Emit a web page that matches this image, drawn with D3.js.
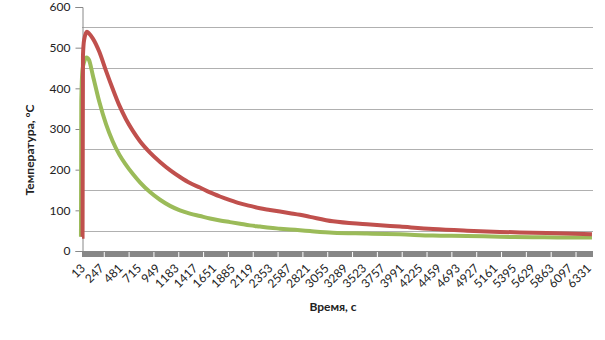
<!DOCTYPE html>
<html>
<head>
<meta charset="utf-8">
<script src="https://cdn.jsdelivr.net/npm/d3@7"></script>
<style>
  body { margin: 0; background: #fff; }
  text { font-family: Lato, "Open Sans", sans-serif; fill: #222; }
</style>
</head>
<body>
<div id="chart"></div>
<script>
// Time points (s)
var redTime = [13, 20, 25, 40, 75, 100, 147, 229, 313, 396, 479, 562, 646, 737, 862, 987, 1112, 1236, 1361, 1486,
  1611, 1736, 1861, 1986, 2110, 2235, 2360, 2485, 2610, 2735, 2860, 3146, 3571, 3983, 4395, 4820, 5232, 5644, 6068, 6380];
var redTemp = [35, 35, 480, 520, 539, 535, 523, 490, 443, 399, 358, 324, 296, 270, 242, 219, 199, 182, 167, 156,
  144, 134, 125, 117, 111, 105, 101, 97, 93, 89, 84, 73, 66, 60, 54, 50, 47, 45, 43, 41];

var greenTime = [0, 4, 20, 40, 70, 100, 147, 229, 313, 396, 479, 562, 646, 737, 862, 987, 1112, 1236, 1361, 1486,
  1611, 1736, 1861, 1986, 2110, 2235, 2360, 2485, 2610, 2735, 2860, 3146, 3571, 3983, 4395, 4820, 5232, 5644, 6068, 6380];
var greenTemp = [35, 367, 447, 465, 476, 470, 433, 367, 312, 270, 237, 212, 190, 169, 145, 126, 111, 100, 92, 86,
  80, 75, 71, 67, 63, 60, 57, 55, 53, 51, 49, 45, 43, 41, 38, 37, 35, 34, 33, 33];

// x tick labels (every 234 s) and y ticks
var xTickLabels = [13, 247, 481, 715, 949, 1183, 1417, 1651, 1885, 2119, 2353, 2587, 2821, 3055,
  3289, 3523, 3757, 3991, 4225, 4459, 4693, 4927, 5161, 5395, 5629, 5863, 6097, 6331];
var yTicks = [0, 100, 200, 300, 400, 500, 600];
var gridValues = [50, 150, 250, 350, 450, 550];

var svgWidth = 605;
var svgHeight = 340;

var svg = d3.select("#chart")
  .append("svg")
  .attr("width", svgWidth)
  .attr("height", svgHeight);

// plot area
var plotLeft = 82, plotRight = 593, plotTop = 7, plotBottom = 251;

var xScale = d3.scaleLinear().domain([13, 6393]).range([plotLeft, plotRight]);
var yScale = d3.scaleLinear().domain([0, 600]).range([plotBottom, plotTop]);

// grid lines
svg.append("g")
  .selectAll("line")
  .data(gridValues)
  .enter()
  .append("line")
  .attr("x1", plotLeft)
  .attr("x2", plotRight)
  .attr("y1", d => Math.round(yScale(d)) + 0.5)
  .attr("y2", d => Math.round(yScale(d)) + 0.5)
  .attr("stroke", "#b0b0b0")
  .attr("stroke-width", 1);

// dense tick band under the x axis
svg.append("rect")
  .attr("x", plotLeft)
  .attr("y", plotBottom)
  .attr("width", plotRight - plotLeft)
  .attr("height", 6)
  .attr("fill", "#878787");

var bandTicks = d3.range(291, 6393, 310);
svg.append("g")
  .selectAll("line")
  .data(bandTicks)
  .enter()
  .append("line")
  .attr("x1", d => xScale(d))
  .attr("x2", d => xScale(d))
  .attr("y1", plotBottom + 1)
  .attr("y2", plotBottom + 6)
  .attr("stroke", "#fff")
  .attr("stroke-width", 1);

// y axis
var leftAxis = d3.axisLeft(yScale)
  .tickValues(yTicks)
  .tickSize(7)
  .tickPadding(5);

var yAxis = svg.append("g")
  .attr("transform", `translate(${plotLeft + 0.5}, 0)`)
  .call(leftAxis);

yAxis.select(".domain").attr("stroke", "#888");
yAxis.selectAll(".tick line").attr("stroke", "#888");
yAxis.selectAll("text")
  .attr("font-size", "12px")
  .attr("font-family", "Lato, sans-serif")
  .attr("fill", "#222");

// x tick labels, rotated
svg.append("g")
  .selectAll("text")
  .data(xTickLabels)
  .enter()
  .append("text")
  .attr("transform", d => `translate(${xScale(d) + 4}, ${plotBottom + 18}) rotate(-45)`)
  .attr("text-anchor", "end")
  .attr("font-size", "12px")
  .text(d => d);

// lines
var line = d3.line()
  .x(d => xScale(d[0]))
  .y(d => yScale(d[1]))
  .curve(d3.curveMonotoneX);

svg.append("path")
  .datum(d3.zip(greenTime, greenTemp))
  .attr("d", line)
  .attr("fill", "none")
  .attr("stroke", "#9bbb59")
  .attr("stroke-width", 4);

svg.append("path")
  .datum(d3.zip(redTime, redTemp))
  .attr("d", line)
  .attr("fill", "none")
  .attr("stroke", "#c0504d")
  .attr("stroke-width", 4);

// axis titles
svg.append("text")
  .attr("transform", "translate(34, 150) rotate(-90)")
  .attr("text-anchor", "middle")
  .attr("font-size", "12px")
  .attr("font-weight", "bold")
  .text("Температура, °С");

svg.append("text")
  .attr("x", 333)
  .attr("y", 311)
  .attr("text-anchor", "middle")
  .attr("font-size", "12px")
  .attr("font-weight", "bold")
  .text("Время, с");
</script>
</body>
</html>
